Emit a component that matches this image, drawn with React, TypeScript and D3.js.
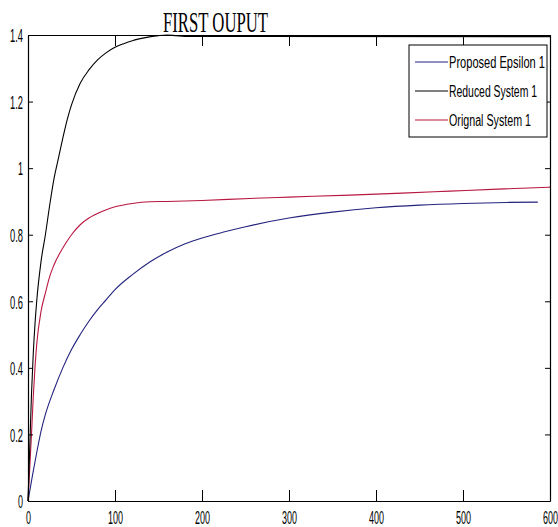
import React, { useRef, useEffect } from 'react';
import * as d3 from 'd3';

// time / response samples
const tBlue = [0, 5, 10, 15, 20, 30, 40, 50, 60, 70, 80, 90, 100, 120, 140, 160, 180, 200, 225, 250, 300, 350, 400, 450, 500, 550, 586];
const blueValues = [0, 0.075, 0.145, 0.21, 0.26, 0.335, 0.4, 0.455, 0.5, 0.54, 0.575, 0.605, 0.635, 0.68, 0.718, 0.748, 0.772, 0.79, 0.808, 0.824, 0.85, 0.868, 0.881, 0.889, 0.894, 0.897, 0.898];

const tBlack = [0, 2, 4, 6, 8, 10, 15, 20, 25, 30, 35, 40, 45, 50, 60, 70, 80, 90, 100, 110, 120, 135, 150, 160, 170, 180, 600];
const blackValues = [0, 0.16, 0.32, 0.44, 0.53, 0.6, 0.72, 0.8, 0.89, 0.97, 1.03, 1.09, 1.145, 1.19, 1.255, 1.295, 1.325, 1.347, 1.363, 1.374, 1.383, 1.392, 1.398, 1.4, 1.398, 1.396, 1.395];

const tRed = [0, 2, 4, 6, 8, 10, 15, 20, 25, 30, 40, 50, 60, 70, 85, 100, 120, 140, 160, 200, 255, 300, 370, 430, 485, 540, 600];
const redValues = [0, 0.1, 0.2, 0.31, 0.4, 0.47, 0.57, 0.625, 0.675, 0.71, 0.76, 0.8, 0.83, 0.85, 0.87, 0.884, 0.894, 0.899, 0.9, 0.903, 0.909, 0.913, 0.919, 0.925, 0.931, 0.937, 0.943];

const xTicks = [0, 100, 200, 300, 400, 500, 600];
const yTicks = [0, 0.2, 0.4, 0.6, 0.8, 1, 1.2, 1.4];

const legendLabels = ['Proposed Epsilon 1', 'Reduced System 1', 'Orignal System 1'];
const legendWidths = [96, 88, 82];
const colors = ['#23237f', '#000000', '#b8163f'];

const W = 558;
const H = 527;
const left = 28, right = 550, top = 35, bottom = 501;

// condensed tick labels: width from the characters
const labelWidth = (s: string) => s.split('').reduce((w, c) => w + (c === '.' ? 3 : 5), 0);

const App = () => {
  const svgRef = useRef(null);

  useEffect(() => {
    const svg = d3.select(svgRef.current);
    svg.selectAll('*').remove();

    const x = d3.scaleLinear().domain([0, 600]).range([left, right]);
    const y = d3.scaleLinear().domain([0, 1.4]).range([bottom, top]);

    svg.append('rect').attr('width', W).attr('height', H).attr('fill', '#fff');

    const series = [
      { t: tBlue, v: blueValues, c: colors[0] },
      { t: tRed, v: redValues, c: colors[2] },
      { t: tBlack, v: blackValues, c: colors[1] },
    ];

    const line = d3
      .line<[number, number]>()
      .x(d => x(d[0]))
      .y(d => y(d[1]))
      .curve(d3.curveMonotoneX);

    series.forEach(s => {
      svg
        .append('path')
        .datum(s.t.map((t, i) => [t, s.v[i]] as [number, number]))
        .attr('d', line)
        .attr('fill', 'none')
        .attr('stroke', s.c)
        .attr('stroke-width', 1.1);
    });

    // axes, MATLAB style: ticks inside on all four sides
    const gx = svg
      .append('g')
      .attr('transform', `translate(0,${bottom})`)
      .call(d3.axisBottom(x).tickValues(xTicks).tickSizeInner(-11).tickSizeOuter(0).tickFormat(d3.format('d')));
    const gy = svg
      .append('g')
      .attr('transform', `translate(${left},0)`)
      .call(d3.axisLeft(y).tickValues(yTicks).tickSizeInner(-5).tickSizeOuter(0).tickFormat(d => `${d}`));
    svg
      .append('g')
      .attr('transform', `translate(0,${top})`)
      .call(d3.axisTop(x).tickValues(xTicks).tickSizeInner(-11).tickSizeOuter(0).tickFormat(() => ''));
    svg
      .append('g')
      .attr('transform', `translate(${right},0)`)
      .call(d3.axisRight(y).tickValues(yTicks).tickSizeInner(-5).tickSizeOuter(0).tickFormat(() => ''));

    svg.selectAll('.domain').attr('stroke', '#000').attr('stroke-width', 1.2);
    svg.selectAll('.tick line').attr('stroke', '#000');

    gx.selectAll<SVGTextElement, number>('text')
      .attr('y', 23)
      .attr('dy', 0)
      .attr('font-size', 19)
      .attr('font-family', 'Liberation Sans, Arial, sans-serif')
      .attr('fill', '#000')
      .attr('textLength', function () { return labelWidth(this.textContent || ''); })
      .attr('lengthAdjust', 'spacingAndGlyphs');
    gy.selectAll<SVGTextElement, number>('text')
      .attr('x', -5)
      .attr('dy', '0.36em')
      .attr('font-size', 19)
      .attr('font-family', 'Liberation Sans, Arial, sans-serif')
      .attr('fill', '#000')
      .attr('textLength', function () { return labelWidth(this.textContent || ''); })
      .attr('lengthAdjust', 'spacingAndGlyphs');

    // title
    svg
      .append('text')
      .attr('x', 163)
      .attr('y', 32)
      .attr('font-family', 'Liberation Serif, Times New Roman, serif')
      .attr('font-size', 29)
      .attr('textLength', 105)
      .attr('lengthAdjust', 'spacingAndGlyphs')
      .text('FIRST OUPUT');

    // legend
    const lg = svg.append('g');
    lg.append('rect')
      .attr('x', 409)
      .attr('y', 45)
      .attr('width', 138)
      .attr('height', 92)
      .attr('fill', '#fff')
      .attr('stroke', '#000');
    const rows = [62, 91, 120];
    legendLabels.forEach((lab, i) => {
      lg.append('line')
        .attr('x1', 415)
        .attr('x2', 448)
        .attr('y1', rows[i])
        .attr('y2', rows[i])
        .attr('stroke', colors[i])
        .attr('stroke-width', 1.1);
      lg.append('text')
        .attr('x', 449)
        .attr('y', rows[i] + 6)
        .attr('font-family', 'Liberation Sans, Arial, sans-serif')
        .attr('font-size', 16)
        .attr('textLength', legendWidths[i])
        .attr('lengthAdjust', 'spacingAndGlyphs')
        .text(lab);
    });
  }, []);

  return (
    <svg
      ref={svgRef}
      width={W}
      height={H}
      style={{ position: 'absolute', left: 0, top: 0, display: 'block' }}
    />
  );
};

export default App;
